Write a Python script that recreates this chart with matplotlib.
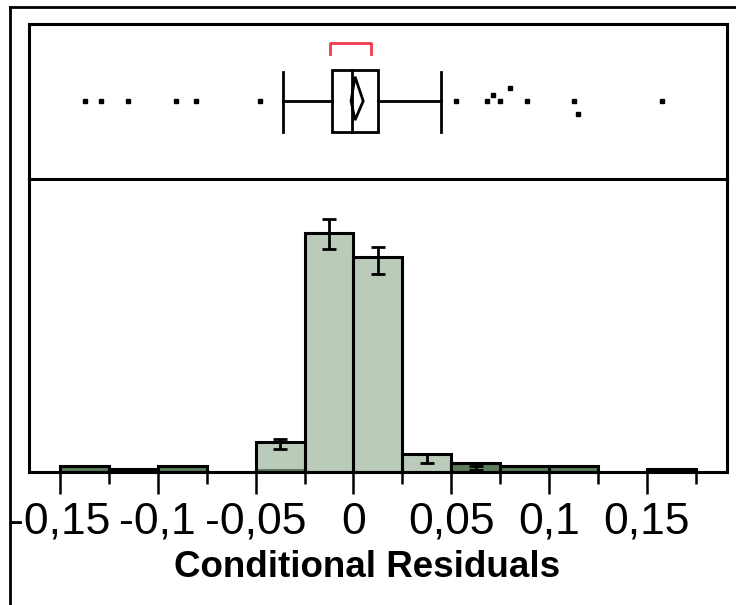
import numpy as np
import matplotlib
matplotlib.use("Agg")
import matplotlib.pyplot as plt
from matplotlib.patches import Rectangle, Polygon
from matplotlib.lines import Line2D

# =======================
# DATA
# =======================
bin_edges = [-0.15, -0.125, -0.1, -0.075, -0.05, -0.025, 0.0,
             0.025, 0.05, 0.075, 0.1, 0.125, 0.15, 0.175]
counts = [2, 1, 2, 0, 10, 80, 72, 6, 3, 2, 2, 0, 1]
outlier_counts = [2, 1, 2, 0, 1, 0, 0, 0, 3, 2, 2, 0, 1]

# error bars on the central bins
err_centers = [-0.0375, -0.0125, 0.0125, 0.0375, 0.0625]
err_lo = [7.4, 74.4, 66.3, 2.9, 0.4]
err_hi = [11.0, 84.5, 75.3, 6.0, 2.0]

# box plot summary
q1, median, q3 = -0.0108, -0.0008, 0.0126
whisk_lo, whisk_hi = -0.0359, 0.0450
mean, ci_lo, ci_hi = 0.0008, -0.0012, 0.0050
short_lo, short_hi = -0.0122, 0.0090

outliers = [-0.1373, -0.1289, -0.1152, -0.0908, -0.0805, -0.0478,
            0.0522, 0.0680, 0.0714, 0.0748, 0.0801, 0.0887,
            0.1127, 0.1146, 0.1577]
outlier_level = [0, 0, 0, 0, 0, 0, 0, 0, 1, 0, 2, 0, 0, -2, 0]

tick_vals = [-0.15, -0.1, -0.05, 0.0, 0.05, 0.1, 0.15]
tick_labels = ["-0,15", "-0,1", "-0,05", "0", "0,05", "0,1", "0,15"]
minor_vals = [-0.125, -0.075, -0.025, 0.025, 0.075, 0.125, 0.175]
x_label = "Conditional Residuals"

light = "#BACBBA"
dark = "#5B7B5B"
red = "#F03A4E"
lw = 2.2

plt.rcParams["font.family"] = ["Liberation Sans", "DejaVu Sans"]

W, H = 736, 605
fig = plt.figure(figsize=(W / 100, H / 100), dpi=100)

x0, x1 = 29 / W, 727 / W
y_top, y_div, y_base = 24, 179, 471.5
ax_hist = fig.add_axes([x0, 1 - y_base / H, x1 - x0, (y_base - y_div) / H])
ax_box = fig.add_axes([x0, 1 - y_div / H, x1 - x0, (y_div - y_top) / H])
ax_hist.patch.set_visible(False)
ax_box.set_zorder(2)
ax_box.patch.set_visible(False)

xlim = (-0.1658, 0.1909)

# =======================
# HISTOGRAM
# =======================
lefts = np.array(bin_edges[:-1])
widths = np.diff(bin_edges)
ax_hist.bar(lefts, counts, width=widths, align="edge", color=light,
            edgecolor="none", zorder=1)
ax_hist.bar(lefts, outlier_counts, width=widths, align="edge", color=dark,
            edgecolor="none", zorder=2)
ax_hist.bar(lefts, counts, width=widths, align="edge", facecolor="none",
            edgecolor="black", linewidth=lw, zorder=3)

err_mid = [(a + b) / 2 for a, b in zip(err_lo, err_hi)]
err_half = [(b - a) / 2 for a, b in zip(err_lo, err_hi)]
ax_hist.errorbar(err_centers, err_mid, yerr=err_half, fmt="none",
                 ecolor="black", elinewidth=2.0, capsize=4.8, capthick=2.0,
                 zorder=4)

ax_hist.set_xlim(xlim)
ax_hist.set_ylim(0, 98)
ax_hist.set_yticks([])
ax_hist.spines["top"].set_visible(False)
for s in ["left", "right", "bottom"]:
    ax_hist.spines[s].set_linewidth(lw)
ax_hist.set_xticks(tick_vals)
ax_hist.set_xticklabels(tick_labels)
ax_hist.set_xticks(minor_vals, minor=True)
ax_hist.tick_params(axis="x", which="major", length=15.6, width=1.8,
                    labelsize=32, pad=6)
ax_hist.tick_params(axis="x", which="minor", length=8.6, width=1.8)

# =======================
# BOX PLOT
# =======================
yc = 0.503
ax_box.add_patch(Rectangle((q1, 0.301), q3 - q1, 0.402, facecolor="white",
                           edgecolor="black", linewidth=2.0, zorder=2))
ax_box.plot([median, median], [0.301, 0.703], color="black", lw=2.0, zorder=3)
ax_box.plot([whisk_lo, q1], [yc, yc], color="black", lw=2.0)
ax_box.plot([q3, whisk_hi], [yc, yc], color="black", lw=2.0)
for w in [whisk_lo, whisk_hi]:
    ax_box.plot([w, w], [0.305, 0.692], color="black", lw=2.0)

ax_box.add_patch(Polygon([(ci_lo, yc), (mean, 0.66), (ci_hi, yc), (mean, 0.38)],
                         closed=True, facecolor="none", edgecolor="black",
                         linewidth=2.0, zorder=4))

ax_box.plot([short_lo, short_lo, short_hi, short_hi],
            [0.805, 0.875, 0.875, 0.805], color=red, lw=2.0)

oy = [yc + 0.042 * lv for lv in outlier_level]
ax_box.plot(outliers, oy, linestyle="none", marker="s", markersize=3.3,
            color="black")

ax_box.set_xlim(xlim)
ax_box.set_ylim(0, 1)
ax_box.set_xticks([])
ax_box.set_yticks([])
for s in ax_box.spines.values():
    s.set_linewidth(lw)

# =======================
# OUTER FRAME + LABEL
# =======================
fig.add_artist(Line2D([10 / W, 10 / W], [0, 1 - 7.3 / H], color="black",
                      lw=2.0, transform=fig.transFigure))
fig.add_artist(Line2D([10 / W, 1], [1 - 7.3 / H, 1 - 7.3 / H], color="black",
                      lw=2.0, transform=fig.transFigure))

fig.text(0.499, 1 - 577 / H, x_label, ha="center", va="baseline",
         fontsize=26.5, fontweight="bold")

fig.savefig("out.png", dpi=100)
